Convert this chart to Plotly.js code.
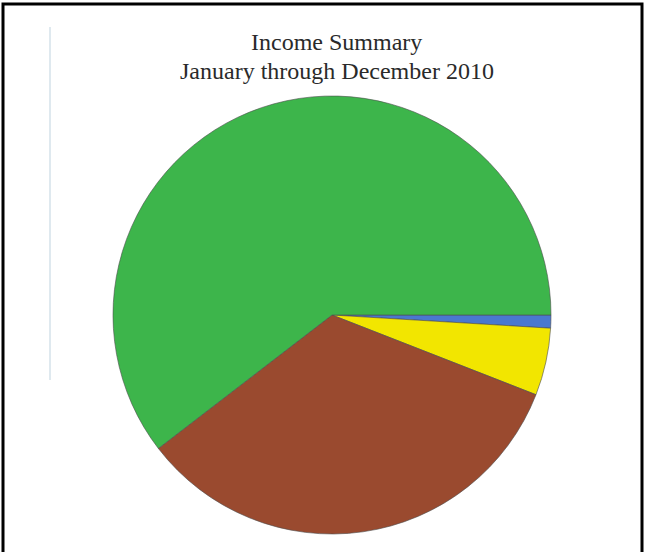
<!DOCTYPE html>
<html>
<head>
<meta charset="utf-8">
<script src="https://cdn.plot.ly/plotly-3.0.1.min.js"></script>
<style>html,body{margin:0;padding:0;background:#fff;}#chart{width:645px;height:552px;}</style>
</head>
<body>
<div id="chart"></div>
<script>
var categories = ["Category A", "Category B", "Category C", "Category D"];
var shares = [0.96, 4.97, 33.64, 60.43];
var sliceColors = ["#4a78cf", "#f2e600", "#9a4a2f", "#3db54b"];
var titleLines = ["Income Summary", "January through December 2010"];

var W = 645, H = 552;
var cx = 332, cy = 315, r = 219;

var data = [{
  type: "pie",
  labels: categories,
  values: shares,
  sort: false,
  direction: "clockwise",
  rotation: 90,
  textinfo: "none",
  hoverinfo: "label+percent",
  marker: {colors: sliceColors, line: {color: "#4d4d4d", width: 0.6}},
  domain: {x: [(cx - r) / W, (cx + r) / W], y: [1 - (cy + r) / H, 1 - (cy - r) / H]}
}];

var titleFont = {family: "Liberation Serif, Times New Roman, serif", size: 24, color: "#2a2a2a"};
var titleY = [42, 71];

var layout = {
  width: W, height: H,
  margin: {l: 0, r: 0, t: 0, b: 0},
  paper_bgcolor: "#ffffff",
  showlegend: false,
  annotations: titleLines.map(function (t, i) {
    return {
      text: t, xref: "paper", yref: "paper",
      x: 337 / W, y: 1 - titleY[i] / H,
      xanchor: "center", yanchor: "middle",
      showarrow: false, font: titleFont
    };
  }),
  shapes: [
    {type: "rect", xref: "paper", yref: "paper", x0: 3 / W, x1: 642 / W, y0: -0.05, y1: 1 - 4 / H,
     line: {color: "#000", width: 3}},
    {type: "line", xref: "paper", yref: "paper", x0: 50 / W, x1: 50 / W, y0: 1 - 380 / H, y1: 1 - 27 / H,
     line: {color: "#d4e2ea", width: 1.5}}
  ]
};

Plotly.newPlot("chart", data, layout, {displayModeBar: false, staticPlot: true});
</script>
</body>
</html>
